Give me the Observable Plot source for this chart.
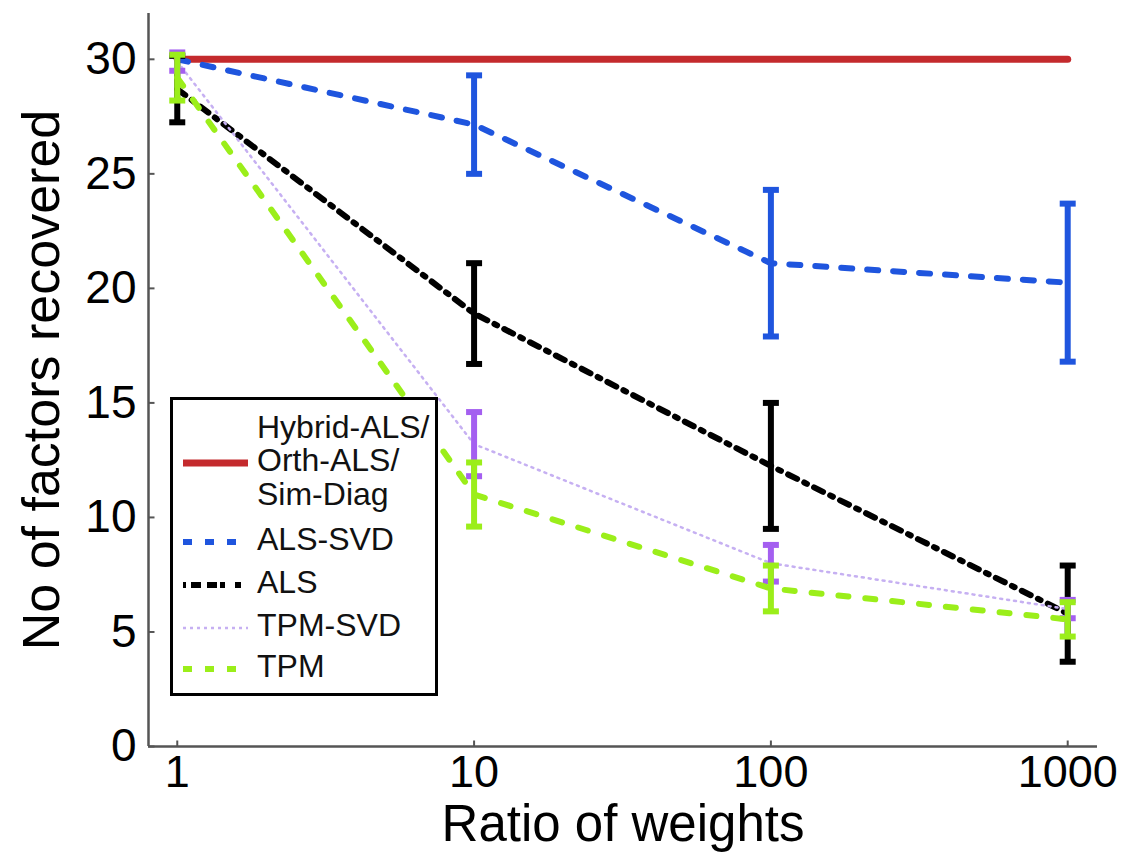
<!DOCTYPE html>
<html>
<head>
<meta charset="utf-8">
<script src="https://cdn.jsdelivr.net/npm/d3@7"></script>
<script src="https://cdn.jsdelivr.net/npm/@observablehq/plot@0.6"></script>
<style>
  html, body { margin: 0; padding: 0; background: #fff; }
  #wrap { position: relative; width: 1131px; height: 862px; font-family: "Liberation Sans", Arial, sans-serif; }
  #legend { position: absolute; left: 170px; top: 397px; }
</style>
</head>
<body>
<div id="wrap"></div>
<script>
// ---- data ----
const ratios = [1, 10, 100, 1000];
const xTicks = [1, 10, 100, 1000];
const yTicks = [0, 5, 10, 15, 20, 25, 30];

const seriesNames = ["Hybrid-ALS/Orth-ALS/Sim-Diag", "ALS-SVD", "ALS", "TPM-SVD", "TPM"];
const hybridMean = [30, 30, 30, 30];
const hybridErr  = [0, 0, 0, 0];
const alsSvdMean = [30, 27.15, 21.1, 20.25];
const alsSvdErr  = [0, 2.15, 3.2, 3.45];
const alsMean    = [28.7, 18.9, 12.25, 5.8];
const alsErr     = [1.45, 2.2, 2.75, 2.1];
const tpmSvdMean = [29.9, 13.2, 8.0, 6.0];
const tpmSvdErr  = [0.4, 1.4, 0.8, 0.4];
const tpmMean    = [29.2, 11.0, 6.9, 5.55];
const tpmErr     = [1.0, 1.4, 1.0, 0.75];

// ---- styles ----
const styles = [
  {name: seriesNames[0], mean: hybridMean, err: hybridErr, line: "#c42a2d", bar: "#c42a2d", width: 7, dash: null, hasBars: false},
  {name: seriesNames[1], mean: alsSvdMean, err: alsSvdErr, line: "#1f55de", bar: "#1f55de", width: 6, dash: "11,15", hasBars: true},
  {name: seriesNames[2], mean: alsMean, err: alsErr, line: "#000000", bar: "#000000", width: 6, dash: "10,8,3,8", hasBars: true},
  {name: seriesNames[3], mean: tpmSvdMean, err: tpmSvdErr, line: "#c6b0f2", bar: "#a45ff0", width: 2.5, dash: "2,5", hasBars: true},
  {name: seriesNames[4], mean: tpmMean, err: tpmErr, line: "#9bee1a", bar: "#9bee1a", width: 6, dash: "10,17", hasBars: true}
];

const xDomain = [0.8, 1260];
const yDomain = [0, 32];

const hCap = {draw(ctx, size) { const r = Math.sqrt(size / Math.PI); ctx.moveTo(-r, 0); ctx.lineTo(r, 0); }};
const vCap = {draw(ctx, size) { const r = Math.sqrt(size / Math.PI); ctx.moveTo(0, -r); ctx.lineTo(0, r); }};

const marks = [];
marks.push(Plot.ruleX([xDomain[0]], {stroke: "#555", strokeWidth: 2.5}));
marks.push(Plot.ruleY([0], {stroke: "#555", strokeWidth: 2.5}));
marks.push(Plot.dot(yTicks, {x: () => xDomain[0], y: d => d, symbol: hCap, r: 3, dx: 3, stroke: "#555", strokeWidth: 2, fill: "none"}));
marks.push(Plot.dot(xTicks, {x: d => d, y: () => 0, symbol: vCap, r: 3, dy: -3, stroke: "#555", strokeWidth: 2, fill: "none"}));

for (const s of styles) {
  const data = ratios.map((x, i) => ({x, m: s.mean[i], lo: s.mean[i] - s.err[i], hi: s.mean[i] + s.err[i]}));
  const lineOpts = {x: "x", y: "m", stroke: s.line, strokeWidth: s.width};
  if (s.dash) lineOpts.strokeDasharray = s.dash;
  marks.push(Plot.line(data, lineOpts));
  if (s.hasBars) {
    const bd = data.filter(d => d.hi > d.lo);
    marks.push(Plot.ruleX(bd, {x: "x", y1: "lo", y2: "hi", stroke: s.bar, strokeWidth: 6}));
    marks.push(Plot.dot(bd, {x: "x", y: "lo", symbol: hCap, r: 8, stroke: s.bar, strokeWidth: 6, fill: "none"}));
    marks.push(Plot.dot(bd, {x: "x", y: "hi", symbol: hCap, r: 8, stroke: s.bar, strokeWidth: 6, fill: "none"}));
  }
}

marks.push(Plot.axisY({ticks: yTicks, tickSize: 0, tickPadding: 12, fontSize: 46, tickFormat: d => String(d), label: null}));
marks.push(Plot.axisX({ticks: xTicks, tickSize: 0, tickPadding: 9, fontSize: 45, tickFormat: d => String(d), label: null}));
marks.push(Plot.text(["No of factors recovered"], {frameAnchor: "left", dx: -106, rotate: -90, fontSize: 52, textAnchor: "middle", lineAnchor: "middle", fill: "#000"}));
marks.push(Plot.text(["Ratio of weights"], {frameAnchor: "bottom", dy: 78, fontSize: 51, textAnchor: "middle", lineAnchor: "middle", fill: "#000"}));

const chart = Plot.plot({
  width: 1131,
  height: 862,
  marginLeft: 148,
  marginRight: 34,
  marginTop: 13,
  marginBottom: 116,
  style: {fontFamily: "'Liberation Sans', Arial, sans-serif", color: "#000", background: "#fff"},
  x: {type: "log", domain: xDomain, axis: null},
  y: {domain: yDomain, axis: null},
  marks
});
const wrap = document.getElementById("wrap");
wrap.appendChild(chart);

// ---- legend (inside plot area) ----
const legendRows = [
  {text: "Hybrid-ALS/", y: 33, style: null},
  {text: "Orth-ALS/", y: 66, style: 0},
  {text: "Sim-Diag", y: 100, style: null},
  {text: "ALS-SVD", y: 145, style: 1},
  {text: "ALS", y: 188, style: 2},
  {text: "TPM-SVD", y: 231, style: 3},
  {text: "TPM", y: 272, style: 4}
];
const legendDash = ["", "9,13", "3,5,10,6,10", "3,4", "9,13"];
const ns = "http://www.w3.org/2000/svg";
const lg = document.createElementNS(ns, "svg");
lg.setAttribute("id", "legend");
lg.setAttribute("width", 270);
lg.setAttribute("height", 300);
const rect = document.createElementNS(ns, "rect");
rect.setAttribute("x", 1.5); rect.setAttribute("y", 1.5);
rect.setAttribute("width", 265); rect.setAttribute("height", 296);
rect.setAttribute("fill", "#fff"); rect.setAttribute("stroke", "#000"); rect.setAttribute("stroke-width", 3);
lg.appendChild(rect);
for (const row of legendRows) {
  if (row.style !== null) {
    const s = styles[row.style];
    const ln = document.createElementNS(ns, "line");
    ln.setAttribute("x1", 13); ln.setAttribute("x2", 78);
    ln.setAttribute("y1", row.y); ln.setAttribute("y2", row.y);
    ln.setAttribute("stroke", s.line);
    ln.setAttribute("stroke-width", s.width);
    if (legendDash[row.style]) ln.setAttribute("stroke-dasharray", legendDash[row.style]);
    lg.appendChild(ln);
  }
  const t = document.createElementNS(ns, "text");
  t.setAttribute("x", 87); t.setAttribute("y", row.y);
  t.setAttribute("dominant-baseline", "middle");
  t.setAttribute("font-size", 32);
  t.setAttribute("font-family", "'Liberation Sans', Arial, sans-serif");
  t.setAttribute("fill", "#111");
  t.textContent = row.text;
  lg.appendChild(t);
}
wrap.appendChild(lg);
</script>
</body>
</html>
